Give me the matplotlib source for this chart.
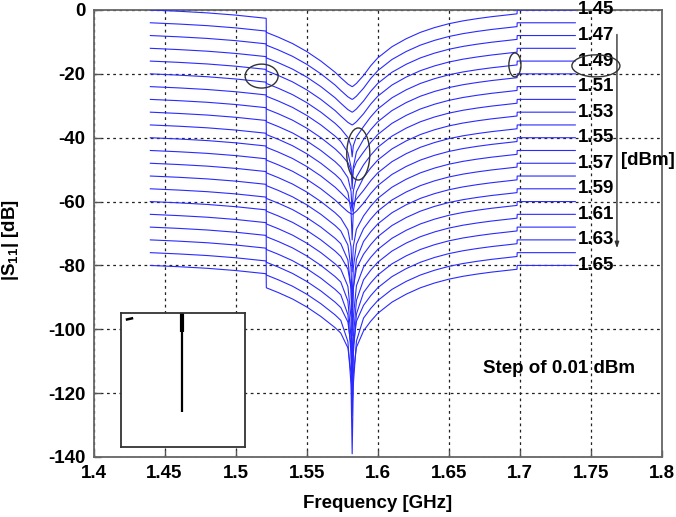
import numpy as np
import matplotlib
matplotlib.use("Agg")
import matplotlib.pyplot as plt
from matplotlib.patches import Ellipse

plt.rcParams['font.family'] = ['Liberation Sans', 'DejaVu Sans']
plt.rcParams['font.weight'] = 'bold'
plt.rcParams['axes.unicode_minus'] = False
plt.rcParams['mathtext.fontset'] = 'custom'
plt.rcParams['mathtext.rm'] = 'Liberation Sans:bold'
plt.rcParams['mathtext.it'] = 'Liberation Sans:bold'
plt.rcParams['mathtext.bf'] = 'Liberation Sans:bold'

# ---------------- data ----------------
# common frequency points of the sweep (GHz)
profile_freq = [1.44, 1.46, 1.48, 1.50, 1.5215, 1.5216, 1.53, 1.54, 1.55, 1.56, 1.57,
                1.574, 1.579, 1.5812, 1.582, 1.5828, 1.585, 1.590,
                1.595, 1.60, 1.61, 1.62, 1.63, 1.64, 1.65, 1.66, 1.67, 1.68, 1.69,
                1.698, 1.6981, 1.72, 1.739]
# common |S11| shape relative to each trace's starting level (dB)
profile_rel_db = [0, -0.4, -0.9, -1.6, -2.6, -7.0, -8.5, -10.5, -13.0, -16.0, -19.5,
                  -21.2, -23.2, -23.8, -24.0, -23.8, -23.0, -20.5,
                  -17.5, -15.0, -11.5, -9.0, -7.0, -5.5, -4.3, -3.4, -2.7, -2.1, -1.6,
                  -1.2, 0, 0, 0]
# how strongly a deep notch shows at each point
notch_weight = [0, 0, 0, 0, 0, 0, 0, 0, 0, 0, 0,
                0, 0.12, 0.45, 1.0, 0.45, 0.12, 0,
                0, 0, 0, 0, 0, 0, 0, 0, 0, 0, 0,
                0, 0, 0, 0]
# starting level of each trace (dB), input power 1.45 ... 1.65 dBm
start_level_db = [0, -4, -8, -12, -16, -20, -24, -28, -32, -36, -40,
                  -44, -48, -52, -56, -60, -64, -68, -72, -76, -80]
# minimum of each trace at the resonance (dB)
notch_min_db = [-24, -28, -32, -36, -46, -56, -53, -63, -72, -62, -64,
                -82, -92, -102, -96, -112, -121, -127, -117, -139, -126]
# power labels at the right end of every second trace
power_labels = ['1.45', '1.47', '1.49', '1.51', '1.53', '1.55',
                '1.57', '1.59', '1.61', '1.63', '1.65']
power_label_db = [0, -8, -16, -24, -32, -40, -48, -56, -64, -72, -80]

x_ticks = [1.4, 1.45, 1.5, 1.55, 1.6, 1.65, 1.7, 1.75, 1.8]
x_tick_labels = ['1.4', '1.45', '1.5', '1.55', '1.6', '1.65', '1.7', '1.75', '1.8']
y_ticks = [0, -20, -40, -60, -80, -100, -120, -140]

# inset (small picture, own unit coordinates)
inset_spike_x = [0.49, 0.49]
inset_spike_y = [1.0, 0.26]
inset_head_x = [0.49, 0.49]
inset_head_y = [1.0, 0.86]
inset_dash_x = [0.045, 0.085]
inset_dash_y = [0.952, 0.960]

# ---------------- figure ----------------
W, H = 676, 517
fig = plt.figure(figsize=(W / 100, H / 100), dpi=100)
ax = fig.add_axes([93.5 / W, 1 - 457 / H, (662 - 93.5) / W, (457 - 10) / H])

FS = 13.5
blue = '#2a2aff'
pf = np.array(profile_freq)
pr = np.array(profile_rel_db)
nw = np.array(notch_weight)
for lvl, nmin in zip(start_level_db, notch_min_db):
    base = lvl + pr
    extra = min(0.0, nmin - (lvl - 24.0))
    ax.plot(pf, base + extra * nw, color=blue, lw=0.8, zorder=3)

ax.set_xlim(1.4, 1.8)
ax.set_ylim(-140, 0)
ax.set_xticks(x_ticks)
ax.set_xticklabels(x_tick_labels)
ax.set_yticks(y_ticks)
ax.tick_params(direction='in', length=5, width=1, color='#555555',
               labelsize=FS, pad=6)
for lab in ax.get_xticklabels() + ax.get_yticklabels():
    lab.set_fontweight('bold')
ax.grid(True, color='#222222', linestyle=(0, (2.2, 2.8)), linewidth=0.9)
ax.set_axisbelow(True)
for sp in ax.spines.values():
    sp.set_color('#666666')
    sp.set_linewidth(1.3)

ax.set_xlabel('Frequency [GHz]', fontsize=FS, fontweight='bold', labelpad=9)
ax.set_ylabel('|S$_{11}$| [dB]', fontsize=FS, fontweight='bold')
ax.yaxis.set_label_coords(-0.127, 0.485)

# right labels
for lab, yv in zip(power_labels, power_label_db):
    ax.text(1.7405, yv, lab, fontsize=FS, fontweight='bold', ha='left',
            va='center', zorder=5, clip_on=False)

ax.annotate('', xy=(1.7683, -75.5), xytext=(1.7683, -6.8),
            arrowprops=dict(arrowstyle='-|>,head_length=0.35,head_width=0.12',
                            color='#333333', lw=1.0), zorder=5)
ax.text(1.7715, -47, '[dBm]', fontsize=FS, fontweight='bold', ha='left',
        va='center', zorder=5)
ax.text(1.7275, -112.4, 'Step of 0.01 dBm', fontsize=FS, fontweight='bold',
        ha='center', va='center', zorder=5)

# ellipses
for (cx, cy, w, h) in [(1.5183, -20.7, 0.0232, 7.5),
                       (1.5863, -45.1, 0.0162, 16.3),
                       (1.6965, -17.2, 0.0085, 7.5),
                       (1.7535, -17.5, 0.0338, 6.9)]:
    ax.add_patch(Ellipse((cx, cy), w, h, fill=False, edgecolor='#333333',
                         lw=1.0, zorder=6))

# inset
ins = ax.inset_axes([1.4197, -136.9, 0.0866, 42.0], transform=ax.transData, zorder=7)
ins.set_facecolor('white')
ins.set_xlim(0, 1)
ins.set_ylim(0, 1)
ins.set_xticks([])
ins.set_yticks([])
for sp in ins.spines.values():
    sp.set_color('#333333')
    sp.set_linewidth(1.3)
ins.plot(inset_spike_x, inset_spike_y, color='black', lw=1.6, solid_capstyle='butt')
ins.plot(inset_head_x, inset_head_y, color='black', lw=3.0, solid_capstyle='butt')
ins.plot(inset_dash_x, inset_dash_y, color='black', lw=1.8)

fig.savefig('out.png', dpi=100)
